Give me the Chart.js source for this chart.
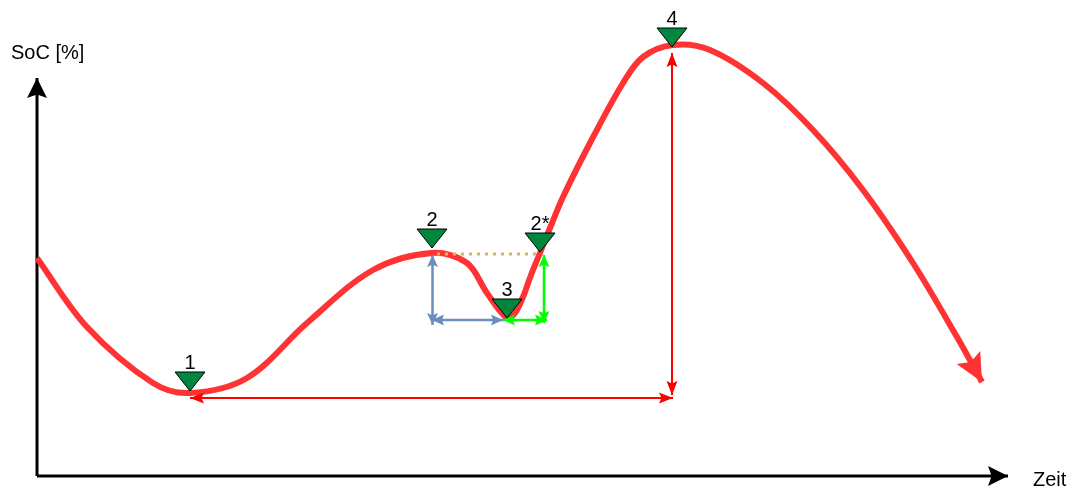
<!DOCTYPE html>
<html>
<head>
<meta charset="utf-8">
<script src="https://cdn.jsdelivr.net/npm/chart.js@4/dist/chart.umd.min.js"></script>
<style>
    html, body { margin: 0; padding: 0; background: #fff; }
</style>
</head>
<body>
<canvas id="grafica" width="1075" height="488"></canvas>
<script>
// Verlauf: Zeit (x) und SoC (y), Ursprung im Achsenkreuz
const zeit = [0, 50, 116, 153, 210, 270, 336, 395, 430, 450, 470, 478, 486, 494, 503, 513, 526, 553, 586, 606, 636, 673, 726, 776, 826, 876, 920, 945];
const soc = [218, 149, 93, 83, 98, 153, 206, 223, 213, 183, 158, 163, 179, 201, 223, 248, 279, 333, 393, 419, 431, 426, 393, 346, 286, 213, 139, 94];

// Markierte Punkte
const punkte = ["1", "2", "3", "2*", "4"];
const punkteZeit = [153, 395, 470, 503, 635];
const punkteSoc = [85, 228, 158, 224, 429];

// Pfeile (Anfang, Ende)
const dauerGesamtZeit = [153, 636];
const dauerGesamtSoc = [78, 78];
const hubGesamtZeit = [635, 635];
const hubGesamtSoc = [81, 423];
const hubBlauZeit = [395.5, 395.5];
const hubBlauSoc = [221, 151];
const dauerBlauZeit = [395, 466];
const dauerBlauSoc = [156, 156];
const dauerGruenZeit = [466, 510];
const dauerGruenSoc = [156, 156];
const hubGruenZeit = [507, 507];
const hubGruenSoc = [221, 153];
const niveauZeit = [400, 500];
const niveauSoc = [222, 222];

// Achsen
const achseZeitEnde = 971;
const achseSocEnde = 398;
const titelSoc = "SoC [%]";
const titelZeit = "Zeit";

function punktePaar(xs, ys) {
    return xs.map((x, i) => ({ x: x, y: ys[i] }));
}

function dreieck(breite, hoehe) {
    const c = document.createElement("canvas");
    c.width = breite + 2;
    c.height = 2 * hoehe + 2;
    const ctx = c.getContext("2d");
    ctx.beginPath();
    ctx.moveTo(1, 1);
    ctx.lineTo(breite + 1, 1);
    ctx.lineTo(breite / 2 + 1, hoehe + 1);
    ctx.closePath();
    ctx.fillStyle = "#00873d";
    ctx.fill();
    ctx.lineWidth = 1;
    ctx.strokeStyle = "#000";
    ctx.stroke();
    return c;
}

function pfeilspitze(ctx, von, bis, laenge, breite, farbe) {
    const winkel = Math.atan2(bis.y - von.y, bis.x - von.x);
    ctx.save();
    ctx.translate(bis.x, bis.y);
    ctx.rotate(winkel);
    ctx.beginPath();
    ctx.moveTo(0, 0);
    ctx.lineTo(-laenge, -breite);
    ctx.lineTo(-laenge * 0.82, 0);
    ctx.lineTo(-laenge, breite);
    ctx.closePath();
    ctx.fillStyle = farbe;
    ctx.fill();
    ctx.restore();
}

const pfeilPlugin = {
    id: "pfeile",
    afterDatasetDraw(chart, args) {
        const ds = chart.data.datasets[args.index];
        if (!ds.pfeil) return;
        const p = args.meta.data;
        const ctx = chart.ctx;
        const [laenge, breite] = ds.pfeil;
        if (ds.pfeilEnde) pfeilspitze(ctx, p[p.length - 2], p[p.length - 1], laenge, breite, ds.borderColor);
        if (ds.pfeilAnfang) pfeilspitze(ctx, p[1], p[0], laenge, breite, ds.borderColor);
    },
    afterDatasetsDraw(chart) {
        const ctx = chart.ctx;
        const x = chart.scales.x;
        const y = chart.scales.y;
        ctx.save();
        ctx.fillStyle = "#000";
        ctx.textBaseline = "alphabetic";

        ctx.font = "20px 'Liberation Sans', Arial, sans-serif";
        ctx.textAlign = "center";
        punkte.forEach((name, i) => {
            ctx.fillText(name, x.getPixelForValue(punkteZeit[i]), y.getPixelForValue(punkteSoc[i]) - 22);
        });

        ctx.font = "20px 'Liberation Sans', Arial, sans-serif";
        ctx.textAlign = "left";
        ctx.fillText(titelSoc, x.getPixelForValue(0) - 26, y.getPixelForValue(achseSocEnde) - 19);
        ctx.fillText(titelZeit, x.getPixelForValue(achseZeitEnde) + 25, y.getPixelForValue(0) + 10);
        ctx.restore();
    }
};

function pfeil(label, xs, ys, farbe, extra) {
    return Object.assign({
        label: label,
        data: punktePaar(xs, ys),
        borderColor: farbe,
        borderWidth: 2,
        pointRadius: 0,
        pfeil: [14, 5.5],
        pfeilAnfang: true,
        pfeilEnde: true
    }, extra || {});
}

const ctx = document.getElementById("grafica");
const grafica = new Chart(ctx, {
    type: "line",
    data: {
        datasets: [
            {
                label: "Punkte",
                data: punktePaar(punkteZeit, punkteSoc),
                showLine: false,
                pointStyle: dreieck(30, 19),
                pointRadius: 10
            },
            pfeil("Niveau", niveauZeit, niveauSoc, "#d6b656", { borderWidth: 3, borderDash: [3, 5], pfeil: null }),
            pfeil("Hub grün", hubGruenZeit, hubGruenSoc, "#00ff00", { borderWidth: 2.5, pfeil: [12, 5.5] }),
            pfeil("Dauer grün", dauerGruenZeit, dauerGruenSoc, "#00ff00", { borderWidth: 2.5, pfeil: [12, 5.5] }),
            pfeil("Dauer blau", dauerBlauZeit, dauerBlauSoc, "#6c8ebf", { borderWidth: 2.5, pfeil: [12, 5.5] }),
            pfeil("Hub blau", hubBlauZeit, hubBlauSoc, "#6c8ebf", { borderWidth: 2.5, pfeil: [12, 5.5] }),
            pfeil("Hub gesamt", hubGesamtZeit, hubGesamtSoc, "#ff0000"),
            pfeil("Dauer gesamt", dauerGesamtZeit, dauerGesamtSoc, "#ff0000"),
            {
                label: "SoC",
                data: punktePaar(zeit, soc),
                borderColor: "#ff3333",
                borderWidth: 6,
                borderCapStyle: "butt",
                tension: 0.34,
                pointRadius: 0,
                pfeil: [28, 13.5],
                pfeilEnde: true
            },
            pfeil("Achse Zeit", [0, achseZeitEnde], [0, 0], "#000", { borderWidth: 3, pfeil: [20, 10], pfeilAnfang: false }),
            pfeil("Achse SoC", [0, 0], [0, achseSocEnde], "#000", { borderWidth: 3, pfeil: [20, 10], pfeilAnfang: false })
        ]
    },
    options: {
        responsive: false,
        devicePixelRatio: 1,
        animation: false,
        clip: false,
        layout: { padding: 0, autoPadding: false },
        plugins: {
            legend: { display: false },
            tooltip: { enabled: false }
        },
        scales: {
            x: { type: "linear", min: -37, max: 1038, display: false },
            y: { type: "linear", min: -12, max: 476, display: false }
        }
    },
    plugins: [pfeilPlugin]
});
</script>
</body>
</html>
